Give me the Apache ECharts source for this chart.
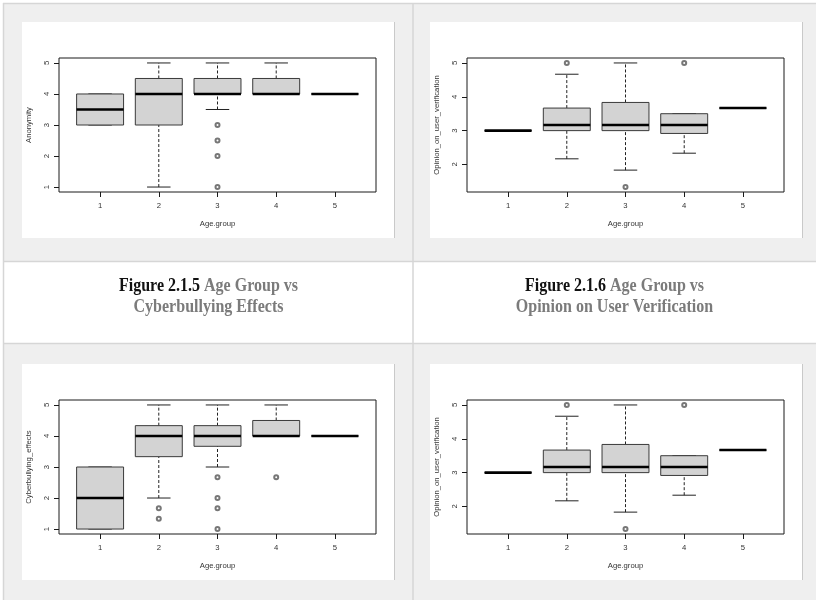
<!DOCTYPE html>
<html>
<head>
<meta charset="utf-8">
<title>Age group box plots</title>
<script src="https://cdn.jsdelivr.net/npm/echarts@6/dist/echarts.min.js"></script>
<style>
  html, body { margin: 0; padding: 0; background: #ffffff; }
  #chart { width: 816px; height: 600px; }
</style>
</head>
<body>
<div id="chart"></div>
<script>
// Age groups on the x axis
const ageGroups = [1, 2, 3, 4, 5];
const ageTicks = [1, 2, 3, 4, 5];

// Five-number summaries per age group: [lower whisker, Q1, median, Q3, upper whisker]
const anonymityStats = [
  [3, 3, 3.5, 4, 4],
  [1, 3, 4, 4.5, 5],
  [3.5, 4, 4, 4.5, 5],
  [4, 4, 4, 4.5, 5],
  [4, 4, 4, 4, 4]
];
const anonymityOutliers = [[3, 3], [3, 2.5], [3, 2], [3, 1]];
const anonymityTicks = [1, 2, 3, 4, 5];

const verificationStats = [
  [3, 3, 3, 3, 3],
  [2.167, 3, 3.167, 3.667, 4.667],
  [1.833, 3, 3.167, 3.833, 5],
  [2.333, 2.917, 3.167, 3.5, 3.5],
  [3.667, 3.667, 3.667, 3.667, 3.667]
];
const verificationOutliers = [[2, 5], [3, 1.333], [4, 5]];
const verificationTicks = [2, 3, 4, 5];

const cyberStats = [
  [1, 1, 2, 3, 3],
  [2, 3.333, 4, 4.333, 5],
  [3, 3.667, 4, 4.333, 5],
  [4, 4, 4, 4.5, 5],
  [4, 4, 4, 4, 4]
];
const cyberOutliers = [[2, 1.667], [2, 1.333], [3, 2.667], [3, 2], [3, 1.667], [3, 1], [4, 2.667]];
const cyberTicks = [1, 2, 3, 4, 5];

// Captions
const captionLeft = ['Figure 2.1.5', 'Age Group vs', 'Cyberbullying Effects'];
const captionRight = ['Figure 2.1.6', 'Age Group vs', 'Opinion on User Verification'];

const xLabel = 'Age.group';

// Panels: picture frame origin, variable, stats, outliers and y ticks
const panels = [
  { ox: 22, oy: 22, name: 'Anonymity', stats: anonymityStats, outliers: anonymityOutliers, ticks: anonymityTicks },
  { ox: 430, oy: 22, name: 'Opinion_on_user_verification', stats: verificationStats, outliers: verificationOutliers, ticks: verificationTicks },
  { ox: 22, oy: 364, name: 'Cyberbullying_effects', stats: cyberStats, outliers: cyberOutliers, ticks: cyberTicks },
  { ox: 430, oy: 364, name: 'Opinion_on_user_verification', stats: verificationStats, outliers: verificationOutliers, ticks: verificationTicks }
];

const FRAME_W = 372, FRAME_H = 216;
const PLOT = { left: 37, top: 36, width: 317, height: 134 };
const axisFont = 'Liberation Sans';
const textColor = '#333';

// R-style range: data span padded by 4% on each side
function paddedRange(stats, outliers) {
  let lo = Infinity, hi = -Infinity;
  stats.forEach(s => { lo = Math.min(lo, s[0]); hi = Math.max(hi, s[4]); });
  outliers.forEach(o => { lo = Math.min(lo, o[1]); hi = Math.max(hi, o[1]); });
  const pad = (hi - lo) * 0.04;
  return [lo - pad, hi + pad];
}

function boxRenderer(params, api) {
  const x = api.value(0);
  const lo = api.value(1), q1 = api.value(2), md = api.value(3), q3 = api.value(4), hi = api.value(5);
  const hw = 0.4, cw = 0.2;
  const c = (a, b) => api.coord([a, b]);
  const stroke = '#222';
  const line = (p1, p2, extra) => ({
    type: 'line',
    shape: { x1: p1[0], y1: p1[1], x2: p2[0], y2: p2[1] },
    style: Object.assign({ stroke: stroke, lineWidth: 1 }, extra || {})
  });
  const children = [];
  // whiskers (dashed) and staples
  children.push(line(c(x, q3), c(x, hi), { lineDash: [3, 2] }));
  children.push(line(c(x, lo), c(x, q1), { lineDash: [3, 2] }));
  children.push(line(c(x - cw, hi), c(x + cw, hi)));
  children.push(line(c(x - cw, lo), c(x + cw, lo)));
  // box
  const tl = c(x - hw, q3), br = c(x + hw, q1);
  children.push({
    type: 'rect',
    shape: { x: tl[0], y: tl[1], width: br[0] - tl[0], height: br[1] - tl[1] },
    style: { fill: '#d3d3d3', stroke: '#3a3a3a', lineWidth: 1 }
  });
  // median
  children.push(line(c(x - hw, md), c(x + hw, md), { lineWidth: 2.6, stroke: '#000' }));
  return { type: 'group', children: children };
}

const grids = [], xAxes = [], yAxes = [], series = [], graphics = [];

// Table backdrop: grey rows, white caption row, thin rules
graphics.push(
  { type: 'rect', z: -20, shape: { x: 4, y: 4, width: 812, height: 257 }, style: { fill: '#efefef' } },
  { type: 'rect', z: -20, shape: { x: 4, y: 344, width: 812, height: 256 }, style: { fill: '#efefef' } },
  { type: 'line', z: -15, shape: { x1: 3, y1: 3.5, x2: 816, y2: 3.5 }, style: { stroke: '#d6d6d6', lineWidth: 1.5 } },
  { type: 'line', z: -15, shape: { x1: 3.5, y1: 3, x2: 3.5, y2: 600 }, style: { stroke: '#d6d6d6', lineWidth: 1.5 } },
  { type: 'line', z: -15, shape: { x1: 413, y1: 3, x2: 413, y2: 600 }, style: { stroke: '#d6d6d6', lineWidth: 1.5 } },
  { type: 'line', z: -15, shape: { x1: 3, y1: 261.5, x2: 816, y2: 261.5 }, style: { stroke: '#d6d6d6', lineWidth: 1.5 } },
  { type: 'line', z: -15, shape: { x1: 3, y1: 343.5, x2: 816, y2: 343.5 }, style: { stroke: '#d6d6d6', lineWidth: 1.5 } }
);

function caption(cx, parts) {
  const base = { fontFamily: 'Liberation Serif', fontWeight: 'bold', fontSize: 18, lineHeight: 21 };
  return {
    type: 'text', z: 5, x: cx, y: 297, scaleX: 0.89,
    style: {
      text: '{k|' + parts[0] + '}{g| ' + parts[1] + '}\n{g|' + parts[2] + '}',
      align: 'center', verticalAlign: 'middle',
      fontFamily: 'Liberation Serif', fontWeight: 'bold', fontSize: 18,
      rich: {
        k: Object.assign({ fill: '#111' }, base),
        g: Object.assign({ fill: '#7b7b7b' }, base)
      }
    }
  };
}
graphics.push(caption(208.5, captionLeft), caption(614.5, captionRight));

panels.forEach((p, i) => {
  // white picture frame with a faint right edge
  graphics.push(
    { type: 'rect', z: -10, shape: { x: p.ox, y: p.oy, width: FRAME_W, height: FRAME_H }, style: { fill: '#ffffff' } },
    { type: 'line', z: -9, shape: { x1: p.ox + FRAME_W + 0.5, y1: p.oy, x2: p.ox + FRAME_W + 0.5, y2: p.oy + FRAME_H }, style: { stroke: '#c9c9c9', lineWidth: 1 } }
  );
  const range = paddedRange(p.stats, p.outliers);
  grids.push({
    left: p.ox + PLOT.left, top: p.oy + PLOT.top, width: PLOT.width, height: PLOT.height,
    show: true, borderColor: '#1a1a1a', borderWidth: 1, backgroundColor: 'transparent'
  });
  xAxes.push({
    gridIndex: i, type: 'value', min: 0.3, max: 5.7,
    name: xLabel, nameLocation: 'middle', nameGap: 28,
    nameTextStyle: { fontFamily: axisFont, fontSize: 7.7, color: textColor },
    axisLine: { show: false },
    axisTick: { show: true, inside: false, length: 5, customValues: ageTicks, lineStyle: { color: '#1a1a1a' } },
    axisLabel: { show: true, margin: 10, customValues: ageTicks, fontFamily: axisFont, fontSize: 7.7, color: textColor },
    splitLine: { show: false }
  });
  yAxes.push({
    gridIndex: i, type: 'value', min: range[0], max: range[1],
    name: p.name, nameLocation: 'middle', nameGap: 26, nameRotate: 90,
    nameTextStyle: { fontFamily: axisFont, fontSize: 7.7, color: textColor },
    axisLine: { show: false },
    axisTick: { show: true, inside: false, length: 5, customValues: p.ticks, lineStyle: { color: '#1a1a1a' } },
    axisLabel: { show: true, margin: 8, rotate: 90, customValues: p.ticks, fontFamily: axisFont, fontSize: 7.7, color: textColor },
    splitLine: { show: false }
  });
  series.push({
    type: 'custom', xAxisIndex: i, yAxisIndex: i,
    renderItem: boxRenderer,
    encode: { x: 0, y: [1, 2, 3, 4, 5] },
    data: p.stats.map((s, k) => [ageGroups[k]].concat(s)),
    silent: true, z: 3
  });
  series.push({
    type: 'scatter', xAxisIndex: i, yAxisIndex: i,
    symbol: 'emptyCircle', symbolSize: 4,
    itemStyle: { color: '#555', borderWidth: 0.6 },
    data: p.outliers,
    silent: true, z: 4
  });
});

const chart = echarts.init(document.getElementById('chart'), null, { renderer: 'canvas' });
chart.setOption({
  backgroundColor: '#ffffff',
  animation: false,
  grid: grids,
  xAxis: xAxes,
  yAxis: yAxes,
  series: series,
  graphic: { elements: graphics }
});
</script>
</body>
</html>
